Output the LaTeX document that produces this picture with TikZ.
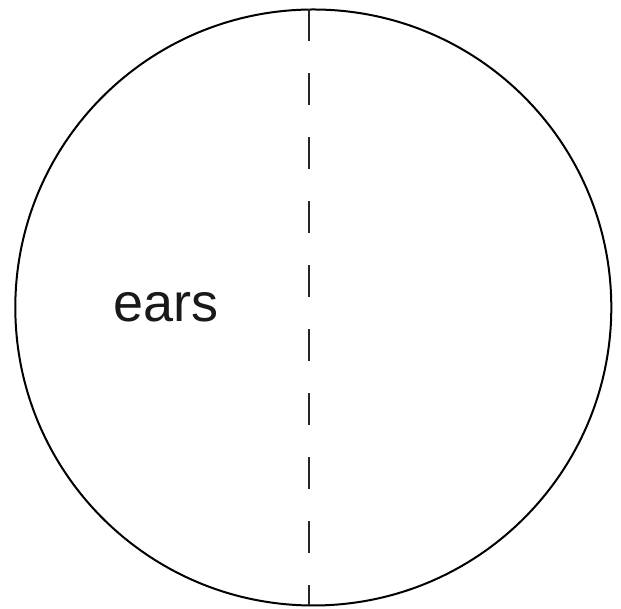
\documentclass[tikz,border=0pt]{standalone}
\usepackage{fontspec}
\setmainfont{Liberation Sans}
\usetikzlibrary{positioning}

\begin{document}
\begin{tikzpicture}[
x=1pt,y=1pt,
outline/.style={circle,draw=black,line width=2pt,minimum size=596pt,inner sep=0pt},
split/.style={draw=black!85,line width=2pt,dash pattern=on 32pt off 32pt},
label/.style={anchor=base,text=black!90,font=\fontsize{54}{60}\selectfont}
]
\useasboundingbox (0,0) rectangle (621,609);
\node[outline] (head) at (313.3,301.5) {};
\coordinate (top) at (309,600);
\coordinate (bot) at (309,4);
\draw[split] (top) -- (bot);
\node[label] (ears) at (166,287) {ears};
\end{tikzpicture}
\end{document}
